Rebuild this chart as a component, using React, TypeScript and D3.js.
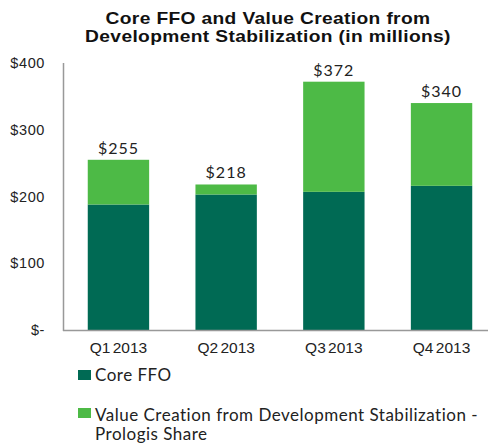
import React, { useEffect, useRef } from 'react';
import * as d3 from 'd3';

const quarters = ['Q1 2013', 'Q2 2013', 'Q3 2013', 'Q4 2013'];
const coreFfo = [188, 203, 207, 216];
const valueCreation = [67, 15, 165, 124];
const totalLabels = ['$255', '$218', '$372', '$340'];
const yTicks = [0, 100, 200, 300, 400];
const seriesNames = ['Core FFO', 'Value Creation from Development Stabilization -', 'Prologis Share'];

const DARK = '#006a54';
const LIGHT = '#4dba46';

const App = () => {
  const svgRef = useRef<SVGSVGElement>(null);

  useEffect(() => {
    const svg = d3.select(svgRef.current);
    svg.selectAll('*').remove();

    const baseY = 330;
    const y = d3.scaleLinear().domain([0, 400]).range([baseY, 63]);
    const x = d3.scaleBand().domain(quarters).range([64.6, 495.4]).paddingInner(0.43).paddingOuter(0.215);

    // title (source image is stretched horizontally)
    const title = svg.append('text')
      .attr('transform', 'translate(268,0) scale(1.2,1)')
      .attr('text-anchor', 'middle')
      .attr('font-family', 'Liberation Sans, Arial, sans-serif')
      .attr('font-weight', 'bold')
      .attr('font-size', 16)
      .attr('letter-spacing', 0.3)
      .attr('fill', '#111');
    title.append('tspan').attr('x', 0).attr('y', 24.5).text('Core FFO and Value Creation  from');
    title.append('tspan').attr('x', 0).attr('y', 42).text('Development Stabilization (in millions)');

    // y axis labels
    svg.append('g')
      .selectAll('text')
      .data(yTicks)
      .enter()
      .append('text')
      .attr('x', 45)
      .attr('y', d => y(d))
      .attr('dy', '0.35em')
      .attr('text-anchor', 'end')
      .attr('font-family', 'Liberation Sans, Arial, sans-serif')
      .attr('font-size', 14.5)
      .attr('letter-spacing', 0.6)
      .attr('fill', '#222')
      .text(d => (d === 0 ? '$-' : `$${d}`));

    // stacked bars
    const stacked = quarters.map((q, i) => ({ q, core: coreFfo[i], value: valueCreation[i] }));
    const series = d3.stack<any>().keys(['core', 'value'])(stacked);
    const colors = [DARK, LIGHT];

    series.forEach((s, si) => {
      svg.append('g')
        .selectAll('rect')
        .data(s)
        .enter()
        .append('rect')
        .attr('x', d => x(d.data.q)!)
        .attr('y', d => y(d[1]))
        .attr('width', x.bandwidth())
        .attr('height', d => y(d[0]) - y(d[1]))
        .attr('fill', colors[si]);
    });

    // axis lines
    svg.append('line')
      .attr('x1', 63.5).attr('x2', 63.5)
      .attr('y1', y(400)).attr('y2', baseY + 1)
      .attr('stroke', '#999').attr('stroke-width', 1.5);
    svg.append('line')
      .attr('x1', 63).attr('x2', 488)
      .attr('y1', baseY + 0.5).attr('y2', baseY + 0.5)
      .attr('stroke', '#999').attr('stroke-width', 1.5);

    // totals
    svg.append('g')
      .selectAll('text')
      .data(stacked)
      .enter()
      .append('text')
      .attr('x', d => x(d.q)! + x.bandwidth() / 2)
      .attr('y', d => y(d.core + d.value) - 6)
      .attr('text-anchor', 'middle')
      .attr('font-family', 'Lato, Open Sans, sans-serif')
      .attr('font-size', 16)
      .attr('letter-spacing', 1)
      .attr('fill', '#222')
      .text((d, i) => totalLabels[i]);

    // x labels
    svg.append('g')
      .selectAll('text')
      .data(quarters)
      .enter()
      .append('text')
      .attr('x', d => x(d)! + x.bandwidth() / 2)
      .attr('y', 353)
      .attr('text-anchor', 'middle')
      .attr('font-family', 'Liberation Sans, Arial, sans-serif')
      .attr('font-size', 15.5)
      .attr('word-spacing', -2)
      .attr('fill', '#222')
      .text(d => d);

    // legend
    const legend = svg.append('g')
      .attr('font-family', 'Lato, Open Sans, sans-serif')
      .attr('font-size', 17)
      .attr('letter-spacing', 0.5)
      .attr('fill', '#222');
    legend.append('rect').attr('x', 78).attr('y', 370).attr('width', 13).attr('height', 10).attr('fill', DARK);
    legend.append('text').attr('x', 95).attr('y', 381).text(seriesNames[0]);
    legend.append('rect').attr('x', 78).attr('y', 408).attr('width', 13).attr('height', 10).attr('fill', LIGHT);
    legend.append('text').attr('x', 95).attr('y', 421).text(seriesNames[1]);
    legend.append('text').attr('x', 95).attr('y', 440).text(seriesNames[2]);
  }, []);

  return (
    <svg ref={svgRef} width={488} height={445} style={{ position: 'absolute', left: 0, top: 0, background: '#fff' }} />
  );
};

export default App;
